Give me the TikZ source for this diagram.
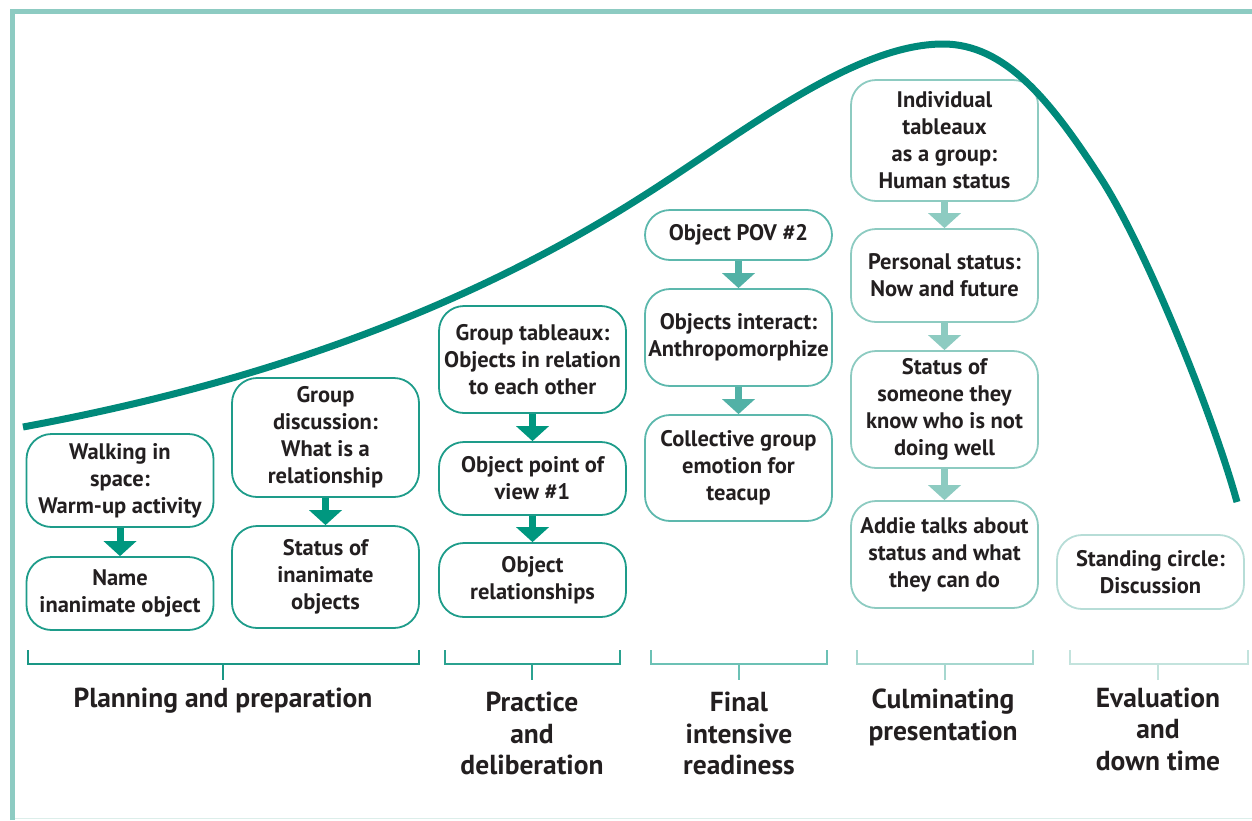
\documentclass[tikz,border=0pt]{standalone}
\usepackage{fontspec}
\setmainfont{PT Sans}
\usetikzlibrary{arrows.meta}
\definecolor{ctext}{HTML}{231F20}
\definecolor{cframe}{HTML}{8DCBC2}
\definecolor{cbottom}{HTML}{DCEEEA}
\definecolor{ccurve}{HTML}{00897A}
\definecolor{cA}{HTML}{1E9C8A}
\definecolor{cAarr}{HTML}{00977F}
\definecolor{cC}{HTML}{5DB8AD}
\definecolor{cCarr}{HTML}{52B1A6}
\definecolor{cD}{HTML}{8DCBC1}
\definecolor{cE}{HTML}{B7DDD7}
\definecolor{brA}{HTML}{1A9785}
\definecolor{brB}{HTML}{2BA290}
\definecolor{brC}{HTML}{6CC1B5}
\definecolor{brD}{HTML}{A6D7CF}
\definecolor{brE}{HTML}{C3E3DD}
\tikzset{
  box/.style={draw=#1, line width=1.8pt, rounded corners=25pt, minimum width=187pt,
    align=center, text=ctext, inner sep=1pt,
    font=\bfseries\fontsize{22.5}{27}\selectfont},
  flowarr/.style={draw=#1, line width=7pt,
    -{Triangle[width=33pt,length=15pt,line width=0pt]}},
  phase/.style={align=center, text=ctext, inner sep=0pt,
    font=\bfseries\fontsize{27.5}{31.5}\selectfont},
  bracketline/.style={draw=#1, line width=1.5pt},
  curveline/.style={draw=ccurve, line width=7pt}
}
\begin{document}
\begin{tikzpicture}[x=1pt,y=-1pt]
\useasboundingbox (0,0) rectangle (1252,820);
% frame
\draw[cframe, line width=5pt] (12.5,820) -- (12.5,11.5) -- (1252,11.5);
\draw[cbottom, line width=1.5pt] (15,818.5) -- (1252,818.5);

% planning and preparation
\node[box=cA, minimum height=93pt] (a1) at (120,480.5) {Walking in\\space:\\Warm-up activity};
\node[box=cA, minimum height=73pt] (a2) at (120,593.5) {Name\\inanimate object};
\node[box=cA, minimum height=119pt] (b1) at (325.5,437.5) {Group\\discussion:\\What is a\\relationship};
\node[box=cA, minimum height=102pt] (b2) at (325.5,577) {Status of\\inanimate\\objects};
\draw[flowarr=cAarr] (a1.south) -- (a2.north);
\draw[flowarr=cAarr] (b1.south) -- (b2.north);

% practice and deliberation
\node[box=cA, minimum height=107pt] (c1) at (532.5,359.5) {Group tableaux:\\Objects in relation\\to each other};
\node[box=cA, minimum height=73pt] (c2) at (532.5,478.5) {Object point of\\view \#1};
\node[box=cA, minimum height=74pt] (c3) at (532.5,580) {Object\\relationships};
\draw[flowarr=cAarr] (c1.south) -- (c2.north);
\draw[flowarr=cAarr] (c2.south) -- (c3.north);

% final intensive readiness
\node[box=cC, minimum height=50pt] (d1) at (738.5,235) {Object POV \#2};
\node[box=cC, minimum height=97pt] (d2) at (738.5,337.5) {Objects interact:\\Anthropomorphize};
\node[box=cC, minimum height=106pt] (d3) at (738.5,468) {Collective group\\emotion for\\teacup};
\draw[flowarr=cCarr] (d1.south) -- (d2.north);
\draw[flowarr=cCarr] (d2.south) -- (d3.north);

% culminating presentation
\node[box=cD, minimum height=121pt] (e1) at (944.5,140.5) {Individual\\tableaux\\as a group:\\Human status};
\node[box=cD, minimum height=93pt] (e2) at (944.5,275.5) {Personal status:\\Now and future};
\node[box=cD, minimum height=117pt] (e3) at (944.5,409.5) {Status of\\someone they\\know who is not\\doing well};
\node[box=cD, minimum height=107pt] (e4) at (944.5,554.5) {Addie talks about\\status and what\\they can do};
\draw[flowarr=cD] (e1.south) -- (e2.north);
\draw[flowarr=cD] (e2.south) -- (e3.north);
\draw[flowarr=cD] (e3.south) -- (e4.north);

% evaluation
\node[box=cE, minimum height=74pt] (f1) at (1150.5,572) {Standing circle:\\Discussion};

% curve
\draw[curveline] (23,427) .. controls (223,390) and (440,325) .. (640,198)
  .. controls (740,135) and (853,44) .. (943,44)
  .. controls (1005,44) and (1050,100) .. (1100,177)
  .. controls (1145,246) and (1212,412) .. (1237,502);

% brackets
\draw[bracketline=brA] (28,650) -- (28,664) -- (419,664) -- (419,650);
\draw[bracketline=brA] (223,664) -- (223,680);
\draw[bracketline=brB] (445,650) -- (445,664) -- (620,664) -- (620,650);
\draw[bracketline=brB] (532,664) -- (532,680);
\draw[bracketline=brC] (651,650) -- (651,664) -- (827,664) -- (827,650);
\draw[bracketline=brC] (739,664) -- (739,680);
\draw[bracketline=brD] (857,650) -- (857,664) -- (1033,664) -- (1033,650);
\draw[bracketline=brD] (945,664) -- (945,680);
\draw[bracketline=brE] (1070,650) -- (1070,664) -- (1248,664) -- (1248,650);
\draw[bracketline=brE] (1158,664) -- (1158,680);

% phase labels
\node[phase] (p1) at (223,701) {Planning and preparation};
\node[phase] (p2) at (532,733.5) {Practice\\and\\deliberation};
\node[phase] (p3) at (739,733.5) {Final\\intensive\\readiness};
\node[phase] (p4) at (943,717.5) {Culminating\\presentation};
\node[phase] (p5) at (1158,729) {Evaluation\\and\\down time};
\end{tikzpicture}
\end{document}
